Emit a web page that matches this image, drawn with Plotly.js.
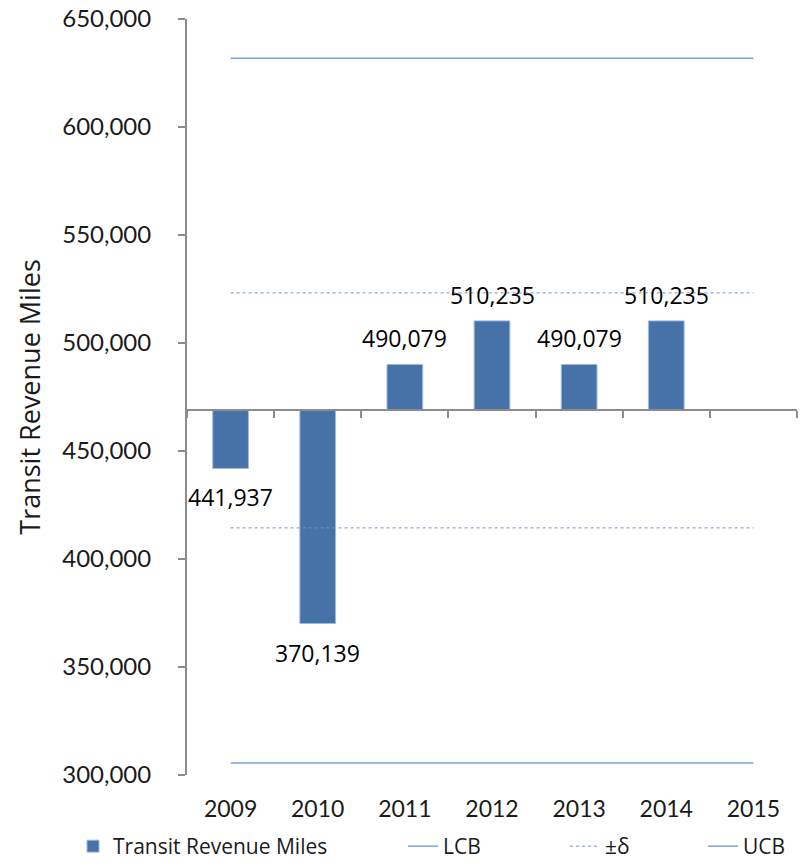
<!DOCTYPE html>
<html>
<head>
<meta charset="utf-8">
<script src="https://cdn.plot.ly/plotly-3.0.1.min.js"></script>
<style>html,body{margin:0;padding:0;background:#fff;}#chart{width:802px;height:867px;}</style>
</head>
<body>
<div id="chart"></div>
<script>
// ---- data ----
const years = ['2009', '2010', '2011', '2012', '2013', '2014', '2015'];
const barYears = ['2009', '2010', '2011', '2012', '2013', '2014'];
const revenueMiles = [441937, 370139, 490079, 510235, 490079, 510235];
const lcbValue = 305600;
const deltaLow = 414400;
const deltaHigh = 523200;
const ucbValue = 631800;
const yTicks = [300000, 350000, 400000, 450000, 500000, 550000, 600000, 650000];

// ---- derived ----
const mean = revenueMiles.reduce((a, b) => a + b, 0) / revenueMiles.length;
const yMin = 300000, yMax = 650000;

const barColor = '#4672A8';
const lineColor = '#7BA2D6';
const txt = '#1a1a1a';
const gothic = 'Lato, "Open Sans", sans-serif';
const wide = '"Open Sans", Lato, sans-serif';
const fmt = v => String(v).replace(/\B(?=(\d{3})+(?!\d))/g, ',');

const traces = [
  {
    type: 'bar', name: 'Transit Revenue Miles', legend: 'legend',
    x: barYears, y: revenueMiles.map(v => v - mean), base: mean,
    width: 0.41,
    marker: {color: barColor, line: {color: '#9DBBE2', width: 1}},
    hoverinfo: 'skip'
  },
  {
    type: 'scatter', mode: 'lines', name: 'LCB', legend: 'legend2',
    x: years, y: years.map(() => lcbValue),
    line: {color: lineColor, width: 1.5}, hoverinfo: 'skip'
  },
  {
    type: 'scatter', mode: 'lines', name: '±δ', legend: 'legend3',
    x: years.concat([null], years),
    y: years.map(() => deltaHigh).concat([null], years.map(() => deltaLow)),
    connectgaps: false,
    line: {color: '#6F96CB', width: 1, dash: 'dot'}, hoverinfo: 'skip'
  },
  {
    type: 'scatter', mode: 'lines', name: 'UCB', legend: 'legend4',
    x: years, y: years.map(() => ucbValue),
    line: {color: lineColor, width: 1.5}, hoverinfo: 'skip'
  },
  {
    // invisible carrier for the category axis that crosses at the mean
    type: 'scatter', mode: 'lines', x: years, y: years.map(() => mean),
    xaxis: 'x2', yaxis: 'y', opacity: 0, showlegend: false, hoverinfo: 'skip',
    line: {width: 0}
  }
];

const annotations = barYears.map((yr, i) => ({
  x: years.indexOf(yr), y: revenueMiles[i], xref: 'x', yref: 'y',
  text: fmt(revenueMiles[i]),
  showarrow: false,
  yshift: revenueMiles[i] >= mean ? 26 : -29,
  font: {family: wide, size: 23, color: '#000'}
}));

function leg(x) {
  return {
    orientation: 'h', xref: 'container', yref: 'container',
    x: x / 802, y: -0.0185, xanchor: 'left', yanchor: 'bottom',
    font: {family: wide, size: 21, color: txt}, bgcolor: 'rgba(0,0,0,0)',
    itemwidth: 30
  };
}

const layout = {
  width: 802, height: 867,
  margin: {l: 187, r: 5, t: 19, b: 92},
  paper_bgcolor: '#fff', plot_bgcolor: '#fff',
  showlegend: true,
  xaxis: {
    type: 'category', categoryorder: 'array', categoryarray: years,
    range: [-0.5, 6.5], showline: false, ticks: '', showgrid: false, zeroline: false,
    tickfont: {family: gothic, size: 23, color: txt},
    ticklabelstandoff: 18,
    fixedrange: true
  },
  xaxis2: {
    type: 'category', categoryorder: 'array', categoryarray: years,
    range: [-0.5, 6.5], overlaying: 'x', anchor: 'free',
    position: (mean - yMin) / (yMax - yMin),
    showline: true, linecolor: '#8C8C8C', linewidth: 2,
    ticks: 'outside', tickson: 'boundaries', ticklen: 7, tickwidth: 2, tickcolor: '#8C8C8C',
    showticklabels: false, showgrid: false, zeroline: false, fixedrange: true
  },
  yaxis: {
    range: [yMin, yMax], tickvals: yTicks,
    ticktext: yTicks.map(fmt),
    showline: true, linecolor: '#8C8C8C', linewidth: 2,
    ticks: 'outside', ticklen: 7, tickwidth: 2, tickcolor: '#8C8C8C',
    showgrid: false, zeroline: false,
    tickfont: {family: gothic, size: 24, color: txt},
    ticklabelstandoff: 22,
    title: {text: 'Transit Revenue Miles', font: {family: wide, size: 27, color: txt}, standoff: 14},
    fixedrange: true
  },
  legend: leg(73),
  legend2: leg(403),
  legend3: leg(565),
  legend4: leg(703),
  annotations: annotations
};

Plotly.newPlot('chart', traces, layout, {displayModeBar: false, staticPlot: true});
</script>
</body>
</html>
